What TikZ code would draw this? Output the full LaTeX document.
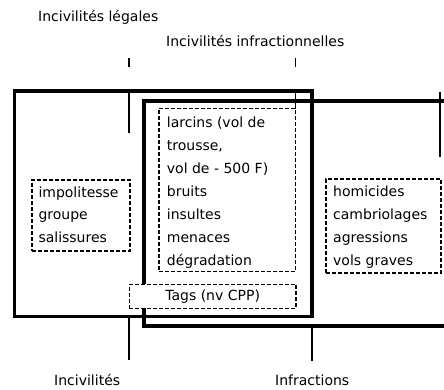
\documentclass[tikz,border=0pt]{standalone}
\usepackage{fontspec}
\setmainfont{DejaVu Sans}
\begin{document}
\begin{tikzpicture}[x=1pt,y=-1pt,
  frame/.style={line width=3.3pt},
  tickline/.style={line width=1.3pt},
  dbox/.style={draw, line width=1.3pt, dash pattern=on 4pt off 2pt,
               fill=white, inner sep=0pt},
  txt/.style={font=\fontsize{14}{16}\selectfont, inner sep=0pt, anchor=base west},
]
\useasboundingbox (0,0) rectangle (444,389);
\fill[white] (0,0) rectangle (444,389);

% corners of the two large sets
\coordinate (civNW) at (14.5,91);
\coordinate (civSE) at (312,316.5);
\coordinate (infNE) at (447,101);
\coordinate (infNW) at (144,101);
\coordinate (infSW) at (144,326);
\coordinate (infSE) at (447,326);

% the set of incivilities and the (open) set of offences
\draw[frame] (civNW) rectangle (civSE);
\draw[frame] (infNE) -- (infNW) -- (infSW) -- (infSE);

% inner separators
\coordinate (sepA1) at (129,91);   \coordinate (sepA2) at (129,133);
\coordinate (sepB1) at (295.5,91); \coordinate (sepB2) at (295.5,108.5);
\coordinate (sepC1) at (440,92);   \coordinate (sepC2) at (440,157);
\draw[tickline] (sepA1) -- (sepA2);
\draw[tickline] (sepB1) -- (sepB2);
\draw[tickline] (sepC1) -- (sepC2);

% dashed groups
\node[dbox, minimum width=98pt,    minimum height=71pt]    (polite) at (81,215.5) {};
\node[dbox, minimum width=136.5pt, minimum height=163.2pt] (theft)  at (227.25,190.1) {};
\node[dbox, minimum width=115pt,   minimum height=94pt]    (crime)  at (383.5,226) {};
\node[dbox, minimum width=166.7pt, minimum height=24pt,
      font=\fontsize{14}{16}\selectfont] (tags) at (212.65,296.3) {Tags (nv CPP)};

% contents of the groups
\foreach \t [count=\i from 0] in {impolitesse,groupe,salissures}
  \node[txt] (p\i) at (38.3,197.7+22.2*\i) {\t};
\foreach \t [count=\i from 0] in {{larcins (vol de},{trousse,},{vol de - 500 F)},
                                 bruits,insultes,menaces,dégradation}
  \node[txt] (l\i) at (166.7,127.7+22.9*\i) {\t};
\foreach \t [count=\i from 0] in {homicides,cambriolages,agressions,vols graves}
  \node[txt] (h\i) at (333,196.7+22.8*\i) {\t};

% labels and their pointers
\node[txt] (legal) at (38,21.7) {Incivilités légales};
\node[txt] (infra) at (166,46.7) {Incivilités infractionnelles};
\node[txt] (civ)   at (54,385) {Incivilités};
\node[txt] (inf)   at (275,385) {Infractions};

\coordinate (pa1) at (129,58);   \coordinate (pa2) at (129,67);
\coordinate (pb1) at (295.5,58); \coordinate (pb2) at (295.5,67);
\coordinate (pc1) at (129,316.5);\coordinate (pc2) at (129,360);
\coordinate (pd1) at (312,326);  \coordinate (pd2) at (312,361);
\draw[tickline] (pa1) -- (pa2);
\draw[tickline] (pb1) -- (pb2);
\draw[tickline] (pc1) -- (pc2);
\draw[tickline] (pd1) -- (pd2);
\end{tikzpicture}
\end{document}
